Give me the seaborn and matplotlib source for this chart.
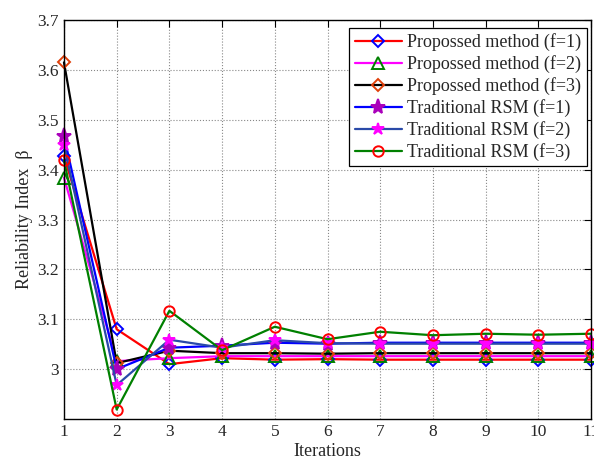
import matplotlib
matplotlib.use("Agg")
import matplotlib.pyplot as plt
import seaborn as sns
import pandas as pd

# data
iterations = [1, 2, 3, 4, 5, 6, 7, 8, 9, 10, 11]
prop_f1 = [3.427, 3.080, 3.010, 3.022, 3.019, 3.020, 3.019, 3.019, 3.019, 3.019, 3.019]
prop_f2 = [3.384, 3.016, 3.022, 3.026, 3.026, 3.026, 3.026, 3.026, 3.026, 3.026, 3.026]
prop_f3 = [3.615, 3.012, 3.037, 3.032, 3.032, 3.031, 3.032, 3.032, 3.032, 3.032, 3.032]
trad_f1 = [3.467, 3.000, 3.043, 3.047, 3.053, 3.051, 3.053, 3.053, 3.053, 3.053, 3.053]
trad_f2 = [3.450, 2.968, 3.059, 3.043, 3.058, 3.052, 3.051, 3.051, 3.051, 3.051, 3.051]
trad_f3 = [3.419, 2.919, 3.117, 3.038, 3.085, 3.060, 3.075, 3.068, 3.071, 3.069, 3.071]

labels = ['Propossed method (f=1)', 'Propossed method (f=2)', 'Propossed method (f=3)',
          'Traditional RSM (f=1)', 'Traditional RSM (f=2)', 'Traditional RSM (f=3)']
y_ticks = [3.0, 3.1, 3.2, 3.3, 3.4, 3.5, 3.6, 3.7]
y_ticklabels = ['3', '3.1', '3.2', '3.3', '3.4', '3.5', '3.6', '3.7']

sns.set_style('white')
plt.rcParams['font.family'] = ['Liberation Serif', 'DejaVu Serif']
plt.rcParams['xtick.direction'] = 'in'
plt.rcParams['ytick.direction'] = 'in'

# (values, line colour, marker, marker edge, marker face, marker size)
styles = [
    (prop_f1, 'red', 'D', 'blue', 'none', 6),
    (prop_f2, 'magenta', '^', 'green', 'none', 8),
    (prop_f3, 'black', 'D', '#e0400a', 'none', 6),
    (trad_f1, 'blue', '*', '#aa00bb', '#aa00bb', 11),
    (trad_f2, '#2a4aa8', '*', 'magenta', 'magenta', 9),
    (trad_f3, 'green', 'o', 'red', 'none', 7.5),
]

fig = plt.figure(figsize=(5.94, 4.59), dpi=100)
ax = fig.add_axes([0.1077, 0.0871, 0.8873, 0.8693])

for (vals, lc, mk, mec, mfc, ms), lab in zip(styles, labels):
    df = pd.DataFrame({'Iterations': iterations, 'beta': vals})
    sns.lineplot(data=df, x='Iterations', y='beta', ax=ax, color=lc, linewidth=1.6,
                 marker=mk, markeredgecolor=mec, markerfacecolor=mfc,
                 markersize=ms, markeredgewidth=1.4, label=lab, clip_on=False)

ax.set_xlim(1, 11)
ax.set_ylim(2.9, 3.7)
ax.set_xticks(iterations)
ax.set_yticks(y_ticks)
ax.set_yticklabels(y_ticklabels)
ax.tick_params(labelsize=12.5, top=True, right=True, length=5, width=0.8, color='black')
ax.grid(True, linestyle=':', color='#888888', linewidth=0.8)
for s in ax.spines.values():
    s.set_color('black')
    s.set_linewidth(1.0)

ax.set_xlabel('Iterations', fontsize=13, labelpad=2)
ax.set_ylabel('Reliability Index  \u03b2', fontsize=13, labelpad=3)

leg = ax.legend(loc='upper right', bbox_to_anchor=(0.992, 0.98), fontsize=13,
                handlelength=2.6, fancybox=False, framealpha=1, edgecolor='black',
                borderpad=0.3, labelspacing=0.22, handletextpad=0.3, borderaxespad=0)
leg.get_frame().set_linewidth(0.9)

fig.savefig('out.png', dpi=100)
